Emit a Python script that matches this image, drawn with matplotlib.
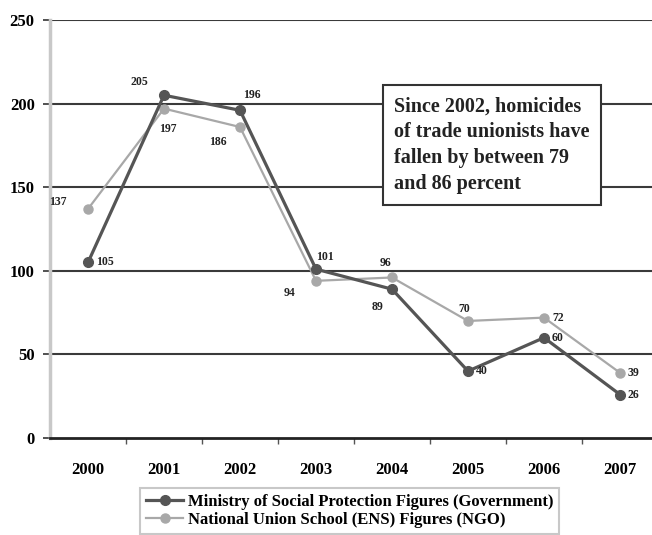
import numpy as np
import matplotlib
matplotlib.use("Agg")
from matplotlib import pyplot as plt

anos = ["2000", "2001", "2002", "2003", "2004", "2005", "2006", "2007"]
governo = [105, 205, 196, 101, 89, 40, 60, 26]
ong = [137, 197, 186, 94, 96, 70, 72, 39]
nome_gov = "Ministry of Social Protection Figures (Government)"
nome_ong = "National Union School (ENS) Figures (NGO)"
texto_caixa = "Since 2002, homicides\nof trade unionists have\nfallen by between 79\nand 86 percent"

# deslocamentos dos rótulos (pixels) e alinhamento
desl_gov = [(8, 0, "left"), (-25, 13, "center"), (12, 15, "center"), (9, 12, "center"),
            (-14, -18, "center"), (8, 0, "left"), (8, 0, "left"), (8, 0, "left")]
desl_ong = [(-30, 7, "center"), (4, -20, "center"), (-22, -15, "center"), (-27, -12, "center"),
            (-6, 14, "center"), (-4, 12, "center"), (8, 0, "left"), (8, 0, "left")]

plt.rcParams['font.family'] = ['Liberation Serif', 'DejaVu Serif']
plt.rcParams['font.weight'] = 'bold'

fig = plt.figure(figsize=(6.52, 5.35), dpi=100)
ax = fig.add_axes([50/652, 97/535, 608/652, 418/535])
x = np.arange(len(anos))

ax.set_ylim(0, 250)
ax.set_xlim(-0.5, 7.5)
ax.set_yticks([0, 50, 100, 150, 200, 250])
for v in [50, 100, 150, 200, 250]:
    ax.axhline(v, color="#3a3a3a", lw=1.5, zorder=1)

ax.plot(x, ong, color="#a8a8a8", lw=1.6, marker="o", ms=6.5, label=nome_ong, zorder=3)
ax.plot(x, governo, color="#555555", lw=2.3, marker="o", ms=7, label=nome_gov, zorder=4)

for i, v in enumerate(governo):
    dx, dy, ha = desl_gov[i]
    ax.annotate(str(v), (x[i], v), xytext=(dx, dy), textcoords="offset pixels",
                ha=ha, va="center", fontsize=8.5, color="#222222", zorder=5)
for i, v in enumerate(ong):
    dx, dy, ha = desl_ong[i]
    ax.annotate(str(v), (x[i], v), xytext=(dx, dy), textcoords="offset pixels",
                ha=ha, va="center", fontsize=8.5, color="#222222", zorder=5)

ax.set_xticks(x)
ax.set_xticklabels(anos)
ax.set_xticks(np.arange(0.5, 7.5, 1), minor=True)
ax.tick_params(axis="x", which="major", length=0, pad=17, labelsize=12)
ax.tick_params(axis="x", which="minor", length=4, width=1, color="#555555")
ax.tick_params(axis="y", length=5, width=1.2, color="#333333", labelsize=12, pad=6)

for s in ["top", "right"]:
    ax.spines[s].set_visible(False)
ax.spines["left"].set_color("#c8c8c8")
ax.spines["left"].set_linewidth(2.5)
ax.spines["bottom"].set_color("#222222")
ax.spines["bottom"].set_linewidth(2)

ax.text(0.566, 0.701, texto_caixa, transform=ax.transAxes, fontsize=14.5, fontweight="bold",
        ha="left", va="center", linespacing=1.38, color="#222222", zorder=6,
        bbox=dict(boxstyle="square,pad=0.55", facecolor="white", edgecolor="#333333", lw=1.5))

handles, labels = ax.get_legend_handles_labels()
leg = fig.legend(handles[::-1], labels[::-1], loc="upper left",
                 bbox_to_anchor=(132/652, 1 - 480/535), fontsize=12, frameon=True,
                 fancybox=False, edgecolor="#bbbbbb", handlelength=2.2, handletextpad=0.3,
                 borderpad=0.35, labelspacing=0.1)
leg.get_frame().set_linewidth(1.5)

fig.savefig("out.png", dpi=100)
